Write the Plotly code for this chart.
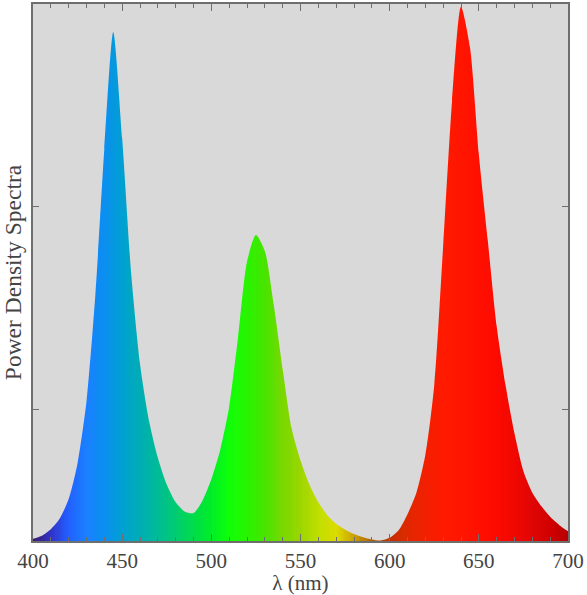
import plotly.graph_objects as go

# ---- data ----
wavelength_nm = [400, 405, 410, 415, 420, 425, 430, 435, 440, 445,
                 450, 455, 460, 465, 470, 475, 480, 485, 490, 495,
                 500, 505, 510, 515, 520, 525, 530, 535, 540, 545,
                 550, 555, 560, 565, 570, 575, 580, 585, 590, 595,
                 600, 605, 610, 615, 620, 625, 630, 635, 640, 645,
                 650, 655, 660, 665, 670, 675, 680, 685, 690, 695, 700]
power_density = [0.004, 0.010, 0.022, 0.042, 0.078, 0.145, 0.26, 0.46, 0.73, 0.948,
                 0.75, 0.50, 0.33, 0.225, 0.155, 0.105, 0.072, 0.055, 0.052, 0.075,
                 0.115, 0.17, 0.25, 0.38, 0.52, 0.57, 0.54, 0.44, 0.32, 0.21,
                 0.15, 0.105, 0.072, 0.048, 0.032, 0.021, 0.013, 0.007, 0.003, 0.001,
                 0.006, 0.02, 0.05, 0.09, 0.16, 0.29, 0.55, 0.82, 0.995, 0.92,
                 0.72, 0.56, 0.40, 0.29, 0.20, 0.13, 0.09, 0.065, 0.045, 0.03, 0.018]
x_tick_vals = [400, 450, 500, 550, 600, 650, 700]
y_tick_vals = [0.244, 0.622]

# spectral colour map (wavelength -> colour)
spectrum_stops_nm = [400, 410, 420, 430, 440, 450, 460, 470, 480, 490, 500, 510,
                     520, 530, 540, 550, 560, 570, 580, 590, 600, 610, 620, 630,
                     640, 650, 660, 670, 680, 690, 700]
spectrum_colors = ["#3a1a70", "#3232c8", "#2260ff", "#1a80ff", "#0a8ff0", "#00a0d2",
                   "#00adb4", "#00bc96", "#00cc72", "#00dc4a", "#00ee28", "#10ff08",
                   "#28f400", "#48e400", "#78d800", "#9cd600", "#c0de00", "#dcdc00",
                   "#cca000", "#b06000", "#c03000", "#e02800", "#f22000", "#ff1a00",
                   "#ff1500", "#ff1000", "#fc0a00", "#f00800", "#e00505", "#d00000",
                   "#b80000"]
color_ramp_nm = list(range(400, 701))

colorscale = [[(w - 400) / 300, c] for w, c in zip(spectrum_stops_nm, spectrum_colors)]

BG = "#d9d9d9"

fig = go.Figure()
fig.add_trace(go.Heatmap(
    x=color_ramp_nm, y=[0, 1.0],
    z=[color_ramp_nm, color_ramp_nm],
    colorscale=colorscale, zmin=400, zmax=700,
    showscale=False, hoverinfo="skip"))
fig.add_trace(go.Scatter(
    x=wavelength_nm, y=power_density, mode="lines",
    line=dict(width=0, shape="spline", smoothing=0.7),
    showlegend=False, hoverinfo="skip"))
fig.add_trace(go.Scatter(
    x=wavelength_nm, y=[1.2] * len(wavelength_nm), mode="lines",
    line=dict(width=0), fill="tonexty", fillcolor=BG,
    showlegend=False, hoverinfo="skip"))

axis_common = dict(showline=True, linecolor="#6e6e6e", linewidth=1.5, mirror="ticks",
                   ticks="inside", tickcolor="#6e6e6e", showgrid=False, zeroline=False,
                   automargin=False)

fig.update_layout(
    width=587, height=595,
    margin=dict(l=33, r=19, t=4, b=54),
    paper_bgcolor="white", plot_bgcolor=BG,
    font=dict(family="Liberation Serif", size=21, color="#444444"),
    xaxis=dict(range=[400, 700], tickvals=x_tick_vals, ticklen=7, tickwidth=1.2,
               minor=dict(dtick=10, tick0=400, ticks="inside", ticklen=4, tickcolor="#6e6e6e"),
               title=dict(text="λ (nm)", font=dict(size=21), standoff=0),
               tickfont=dict(size=21), **axis_common),
    yaxis=dict(range=[0, 1.0], tickvals=y_tick_vals, ticktext=["", ""], ticklen=6,
               title=dict(text="Power Density Spectra", font=dict(size=23.5), standoff=10),
               **axis_common),
)

fig.write_html("out.html", config={"displayModeBar": False},
               post_script="document.body.style.margin='0';document.body.style.overflow='hidden';")
